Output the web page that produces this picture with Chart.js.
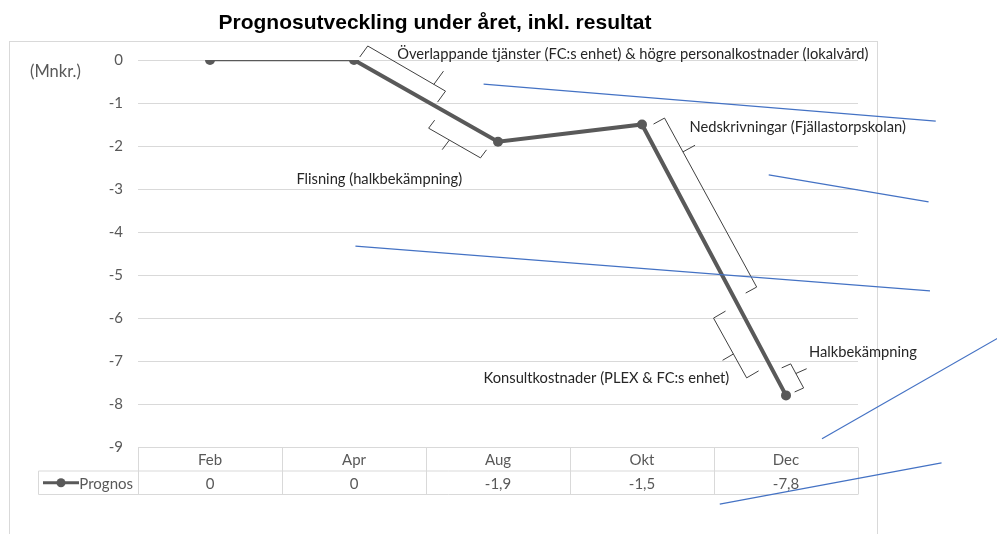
<!DOCTYPE html>
<html>
<head>
<meta charset="utf-8">
<script src="https://cdn.jsdelivr.net/npm/chart.js@4/dist/chart.umd.min.js"></script>
<style>
  body { margin: 0; background: #fff; }
</style>
</head>
<body>
<canvas id="prognosChart" width="997" height="534"></canvas>
<script>
// data
const chartTitle = 'Prognosutveckling under året, inkl. resultat';
const unitLabel = '(Mnkr.)';
const seriesName = 'Prognos';
const months = ['Feb', 'Apr', 'Aug', 'Okt', 'Dec'];
const prognos = [0, 0, -1.9, -1.5, -7.8];
const tableValues = ['0', '0', '-1,9', '-1,5', '-7,8'];
const yTicks = [0, -1, -2, -3, -4, -5, -6, -7, -8, -9];

// text notes: [text, category index, value]
const notes = [
    ['Överlappande tjänster (FC:s enhet) & högre personalkostnader (lokalvård)', 1.30, 0.14],
    ['Nedskrivningar (Fjällastorpskolan)', 3.33, -1.56],
    ['Flisning (halkbekämpning)', 0.60, -2.77],
    ['Konsultkostnader (PLEX & FC:s enhet)', 1.90, -7.40],
    ['Halkbekämpning', 4.16, -6.79]
];
// braces: start [index, value], end [index, value], offset px, tip position, tip length
const braces = [
    { a: [1.04, 0.07], b: [1.58, -0.98], o: [8, -11], t: 0.85, f: 1.2 },
    { a: [1.56, -1.40], b: [1.92, -2.09], o: [-6, 8], t: 0.4, f: 1.2 },
    { a: [3.08, -1.49], b: [3.72, -5.42], o: [11, -6], t: 0.2, f: 1.1 },
    { a: [3.58, -5.84], b: [3.81, -7.23], o: [-12, 7], t: 0.6, f: 0.9 },
    { a: [3.97, -7.16], b: [4.06, -7.72], o: [9, -4], t: 0.4, f: 1.2 }
];
// stray blue lines in the original picture
const blueLines = [
    [[1.90, -0.56], [5.04, -1.42]],
    [[3.88, -2.67], [4.99, -3.30]],
    [[1.01, -4.33], [5.00, -5.37]],
    [[4.25, -8.81], [5.47, -6.47]],
    [[3.54, -10.33], [5.08, -9.37]]
];

const grey = '#595959';
const lineGrey = '#d9d9d9';
const noteFont = '14.7px Lato';

const decorations = {
    id: 'decorations',
    beforeDraw(chart) {
        const ctx = chart.ctx;
        ctx.save();
        ctx.fillStyle = '#fff';
        ctx.fillRect(0, 0, chart.width, chart.height);
        ctx.strokeStyle = lineGrey;
        ctx.lineWidth = 1;
        ctx.strokeRect(9.5, 41.5, 868, 520);
        ctx.fillStyle = '#000';
        ctx.font = 'bold 21px "Liberation Sans"';
        ctx.textAlign = 'center';
        ctx.textBaseline = 'middle';
        ctx.fillText(chartTitle, 435, 23);
        ctx.fillStyle = grey;
        ctx.font = '16.5px Lato';
        ctx.textAlign = 'left';
        ctx.fillText(unitLabel, 30, 72);
        ctx.restore();
    },
    afterDraw(chart) {
        const ctx = chart.ctx;
        const x = chart.scales.x;
        const y = chart.scales.y;
        const px = (i, v) => [x.getPixelForValue(i), y.getPixelForValue(v)];
        ctx.save();

        // data table
        const half = (x.getPixelForValue(1) - x.getPixelForValue(0)) / 2;
        const left = x.getPixelForValue(0) - half;
        const right = x.getPixelForValue(months.length - 1) + half;
        const top = Math.round(y.getPixelForValue(-9)) + 0.5;
        const rowH = 23.5;
        const legendLeft = 38.5;
        ctx.strokeStyle = lineGrey;
        ctx.lineWidth = 1;
        ctx.beginPath();
        ctx.moveTo(left, top); ctx.lineTo(right, top);
        ctx.moveTo(legendLeft, top + rowH); ctx.lineTo(right, top + rowH);
        ctx.moveTo(legendLeft, top + 2 * rowH); ctx.lineTo(right, top + 2 * rowH);
        ctx.moveTo(legendLeft, top + rowH); ctx.lineTo(legendLeft, top + 2 * rowH);
        for (let i = 0; i <= months.length; i++) {
            const cx = Math.round(left + i * 2 * half) + 0.5;
            ctx.moveTo(cx, top); ctx.lineTo(cx, top + 2 * rowH);
        }
        ctx.stroke();
        ctx.fillStyle = grey;
        ctx.font = '15px Lato';
        ctx.textAlign = 'center';
        ctx.textBaseline = 'middle';
        months.forEach((m, i) => {
            const cx = x.getPixelForValue(i);
            ctx.fillText(m, cx, top + rowH / 2 + 1);
            ctx.fillText(tableValues[i], cx, top + rowH * 1.5 + 1);
        });
        ctx.textAlign = 'right';
        ctx.fillText(seriesName, left - 5, top + rowH * 1.5 + 1);
        ctx.strokeStyle = grey;
        ctx.lineWidth = 3;
        ctx.beginPath();
        ctx.moveTo(43, top + rowH * 1.5); ctx.lineTo(79, top + rowH * 1.5);
        ctx.stroke();
        ctx.beginPath();
        ctx.arc(61, top + rowH * 1.5, 4.5, 0, Math.PI * 2);
        ctx.fill();

        // braces
        ctx.strokeStyle = '#404040';
        ctx.lineWidth = 1;
        braces.forEach(b => {
            const [ax, ay] = px(b.a[0], b.a[1]);
            const [bx, by] = px(b.b[0], b.b[1]);
            const [ox, oy] = b.o;
            const tx = ax + ox + b.t * (bx - ax);
            const ty = ay + oy + b.t * (by - ay);
            ctx.beginPath();
            ctx.moveTo(ax, ay);
            ctx.lineTo(ax + ox, ay + oy);
            ctx.lineTo(bx + ox, by + oy);
            ctx.lineTo(bx, by);
            ctx.moveTo(tx, ty);
            ctx.lineTo(tx + ox * b.f, ty + oy * b.f);
            ctx.stroke();
        });

        // notes
        ctx.fillStyle = '#262626';
        ctx.font = noteFont;
        ctx.textAlign = 'left';
        notes.forEach(n => {
            const [nx, ny] = px(n[1], n[2]);
            ctx.fillText(n[0], nx, ny);
        });

        // blue lines
        ctx.strokeStyle = '#4472c4';
        ctx.lineWidth = 1.2;
        blueLines.forEach(l => {
            const [x1, y1] = px(l[0][0], l[0][1]);
            const [x2, y2] = px(l[1][0], l[1][1]);
            ctx.beginPath();
            ctx.moveTo(x1, y1);
            ctx.lineTo(x2, y2);
            ctx.stroke();
        });
        ctx.restore();
    }
};

const chart = document.getElementById('prognosChart');
new Chart(chart, {
    type: 'line',
    data: {
        labels: months,
        datasets: [
            {
                label: seriesName,
                data: prognos,
                borderColor: grey,
                backgroundColor: grey,
                borderWidth: 4,
                pointRadius: 5,
                pointBorderWidth: 0,
                pointBackgroundColor: grey,
                tension: 0,
                segment: {
                    borderWidth: ctx => ctx.p0DataIndex === 0 ? 2.5 : 4
                }
            }
        ]
    },
    options: {
        responsive: false,
        animation: false,
        devicePixelRatio: 1,
        layout: {
            padding: { left: 0, top: 60, right: 139, bottom: 87 }
        },
        plugins: {
            legend: { display: false },
            title: { display: false },
            tooltip: { enabled: false }
        },
        scales: {
            x: {
                display: false,
                offset: true
            },
            y: {
                min: -9,
                max: 0,
                afterFit: function(scale) {
                    scale.width = 138;
                },
                afterBuildTicks: function(scale) {
                    scale.ticks = yTicks.map(v => ({ value: v }));
                },
                border: { display: false },
                grid: {
                    color: lineGrey,
                    drawTicks: false
                },
                ticks: {
                    padding: 15,
                    color: grey,
                    font: { family: 'Lato', size: 15 },
                    callback: function(v) {
                        return String(v);
                    }
                }
            }
        }
    },
    plugins: [decorations]
});
</script>
</body>
</html>
